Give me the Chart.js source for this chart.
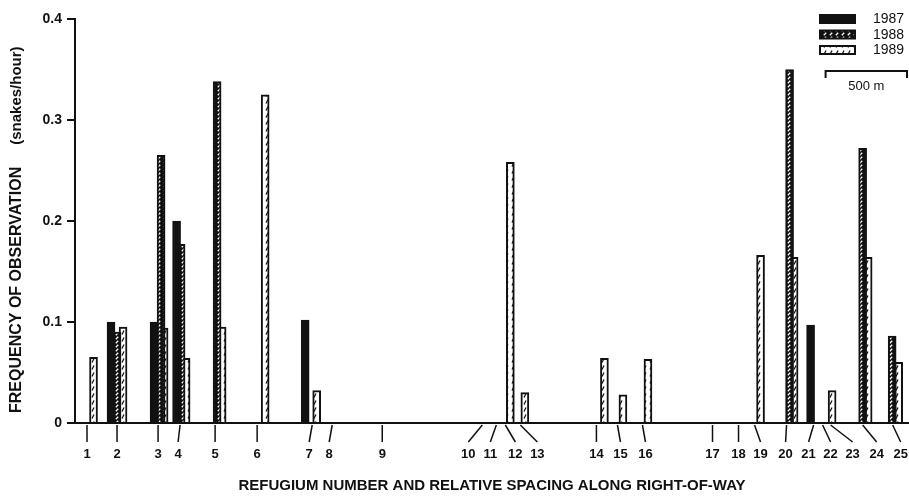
<!DOCTYPE html>
<html>
<head>
<meta charset="utf-8">
<script src="https://cdn.jsdelivr.net/npm/chart.js@4.4.0/dist/chart.umd.min.js"></script>
<style>
    html, body { margin: 0; padding: 0; background: #fff; }
    #wrap { width: 909px; height: 498px; }
</style>
</head>
<body>
<div id="wrap"><canvas id="grafico"></canvas></div>
<script>
// refugium numbers, tick position and label position along the right-of-way (metres)
const refNumbers = ['1', '2', '3', '4', '5', '6', '7', '8', '9', '10', '11', '12', '13',
    '14', '15', '16', '17', '18', '19', '20', '21', '22', '23', '24', '25'];
const refTickM = [72, 252, 498, 630, 840, 1092, 1422, 1542, 1842, 2442, 2526, 2580, 2670,
    3126, 3252, 3402, 3822, 3978, 4074, 4266, 4428, 4482, 4530, 4722, 4902];
const refLabelM = [72, 252, 498, 618, 840, 1092, 1404, 1524, 1842, 2358, 2490, 2640, 2772,
    3126, 3270, 3420, 3822, 3978, 4110, 4260, 4398, 4530, 4662, 4806, 4950];

// bars: position (metres) and snakes/hour
const pos1987 = [216, 474, 609, 1380, 4410];
const val1987 = [0.100, 0.100, 0.200, 0.102, 0.097];
const pos1988 = [252, 516, 636, 852, 4284, 4722, 4899];
const val1988 = [0.090, 0.265, 0.177, 0.338, 0.350, 0.272, 0.086];
const pos1989 = [111, 288, 534, 666, 882, 1140, 1449, 2610, 2697, 3174, 3285, 3435, 4110, 4311, 4539, 4755, 4938];
const val1989 = [0.065, 0.095, 0.094, 0.064, 0.095, 0.325, 0.032, 0.258, 0.030, 0.064, 0.028, 0.063, 0.166, 0.164, 0.032, 0.164, 0.060];

const yTickLabels = ['0', '0.1', '0.2', '0.3', '0.4'];
const scaleBarM = [4500, 5000];
const scaleBarLabel = '500 m';
const yTitleMain = 'FREQUENCY OF OBSERVATION';
const yTitleUnit = '(snakes/hour)';
const xTitle = 'REFUGIUM NUMBER AND RELATIVE SPACING ALONG RIGHT-OF-WAY';

const FONT = "'Liberation Sans', Arial, sans-serif";
const INK = '#111';

function creaPattern(w, h, sfondo, tratto, disegna) {
    const c = document.createElement('canvas');
    c.width = w;
    c.height = h;
    const g = c.getContext('2d');
    g.fillStyle = sfondo;
    g.fillRect(0, 0, w, h);
    g.strokeStyle = tratto;
    g.lineWidth = 1.3;
    g.beginPath();
    disegna(g);
    g.stroke();
    return g.createPattern(c, 'repeat');
}

// 1988: dark bar with small white slashes, 1989: open bar with black slashes
const pattern1988 = creaPattern(6, 4, INK, '#fff', g => { g.moveTo(1.8, 3.2); g.lineTo(4.2, 0.8); });
const pattern1989 = creaPattern(6, 7, '#fff', INK, g => { g.moveTo(2, 5.5); g.lineTo(4, 1.5); });

const punti = (pos, val) => pos.map((x, i) => ({ x, y: val[i] }));

const serie = [
    { label: '1987', data: punti(pos1987, val1987), backgroundColor: INK },
    { label: '1988', data: punti(pos1988, val1988), backgroundColor: pattern1988 },
    { label: '1989', data: punti(pos1989, val1989), backgroundColor: pattern1989 }
];

// x ticks with leader lines, legend, scale bar, y title
const decorazioni = {
    id: 'decorazioni',
    afterDraw(chart) {
        const ctx = chart.ctx;
        const xs = chart.scales.x;
        const ys = chart.scales.y;
        const base = ys.getPixelForValue(0);

        ctx.save();
        ctx.strokeStyle = INK;
        ctx.fillStyle = INK;

        // baseline runs a little left of the y axis
        ctx.lineWidth = 2;
        ctx.beginPath();
        ctx.moveTo(chart.chartArea.left - 8, base);
        ctx.lineTo(chart.chartArea.left, base);
        ctx.stroke();
        ctx.lineWidth = 1.5;

        // refugium ticks
        ctx.font = `bold 13px ${FONT}`;
        ctx.textAlign = 'center';
        ctx.textBaseline = 'middle';
        refNumbers.forEach((n, i) => {
            const px = xs.getPixelForValue(refTickM[i]);
            const lx = xs.getPixelForValue(refLabelM[i]);
            ctx.beginPath();
            ctx.moveTo(px, base + 2);
            ctx.lineTo(lx, base + 19);
            ctx.stroke();
            ctx.fillText(n, lx, base + 31);
        });

        // legend
        const lx0 = 820, ly0 = 15;
        serie.forEach((s, i) => {
            const y = ly0 + i * 15.5;
            ctx.fillStyle = s.backgroundColor;
            ctx.fillRect(lx0, y, 35, 8);
            ctx.strokeStyle = INK;
            ctx.lineWidth = 2;
            ctx.strokeRect(lx0, y, 35, 8);
            ctx.fillStyle = INK;
            ctx.font = `14px ${FONT}`;
            ctx.textAlign = 'left';
            ctx.textBaseline = 'middle';
            ctx.fillText(s.label, 873, y + 4.5);
        });

        // 500 m scale bar
        const sx0 = xs.getPixelForValue(scaleBarM[0]);
        const sx1 = xs.getPixelForValue(scaleBarM[1]) - 2;
        ctx.lineWidth = 2;
        ctx.beginPath();
        ctx.moveTo(sx0, 78);
        ctx.lineTo(sx0, 71);
        ctx.lineTo(sx1, 71);
        ctx.lineTo(sx1, 78);
        ctx.stroke();
        ctx.font = `13px ${FONT}`;
        ctx.textAlign = 'center';
        ctx.fillText(scaleBarLabel, (sx0 + sx1) / 2, 86);

        // y title, two fonts
        ctx.translate(17, 413);
        ctx.rotate(-Math.PI / 2);
        ctx.textAlign = 'left';
        ctx.textBaseline = 'middle';
        ctx.font = `bold 16px ${FONT}`;
        ctx.fillText(yTitleMain, 0, 0);
        const w = ctx.measureText(yTitleMain).width;
        ctx.font = `bold 15px ${FONT}`;
        ctx.fillText(yTitleUnit, w + 22, 0);
        ctx.restore();
    }
};

new Chart(document.getElementById('grafico'), {
    type: 'bar',
    data: {
        datasets: serie.map(s => ({
            label: s.label,
            data: s.data,
            backgroundColor: s.backgroundColor,
            borderColor: INK,
            borderWidth: 2,
            borderSkipped: 'bottom',
            barThickness: 8,
            grouped: false
        }))
    },
    options: {
        responsive: true,
        maintainAspectRatio: false,
        animation: false,
        layout: { padding: { top: 19, right: 0, bottom: 0, left: 0 } },
        plugins: {
            legend: { display: false },
            tooltip: { enabled: false }
        },
        scales: {
            x: {
                type: 'linear',
                min: 0,
                max: 5000,
                offset: false,
                grid: { display: false, offset: false },
                ticks: { display: false },
                border: { display: true, color: INK, width: 2 },
                title: {
                    display: true,
                    text: xTitle,
                    color: INK,
                    font: { family: FONT, size: 15, weight: 'bold' },
                    padding: { top: 0, bottom: 3 }
                },
                afterFit: s => { s.height = 75; }
            },
            y: {
                min: 0,
                max: 0.4,
                ticks: {
                    stepSize: 0.1,
                    color: INK,
                    padding: 5,
                    font: { family: FONT, size: 14, weight: 'bold' },
                    callback: (v, i) => yTickLabels[i]
                },
                grid: {
                    display: true,
                    drawOnChartArea: false,
                    drawTicks: true,
                    tickLength: 8,
                    color: INK,
                    lineWidth: 2
                },
                border: { display: true, color: INK, width: 2 },
                title: { display: false },
                afterFit: s => { s.width = 75; }
            }
        }
    },
    plugins: [decorazioni]
});
</script>
</body>
</html>
